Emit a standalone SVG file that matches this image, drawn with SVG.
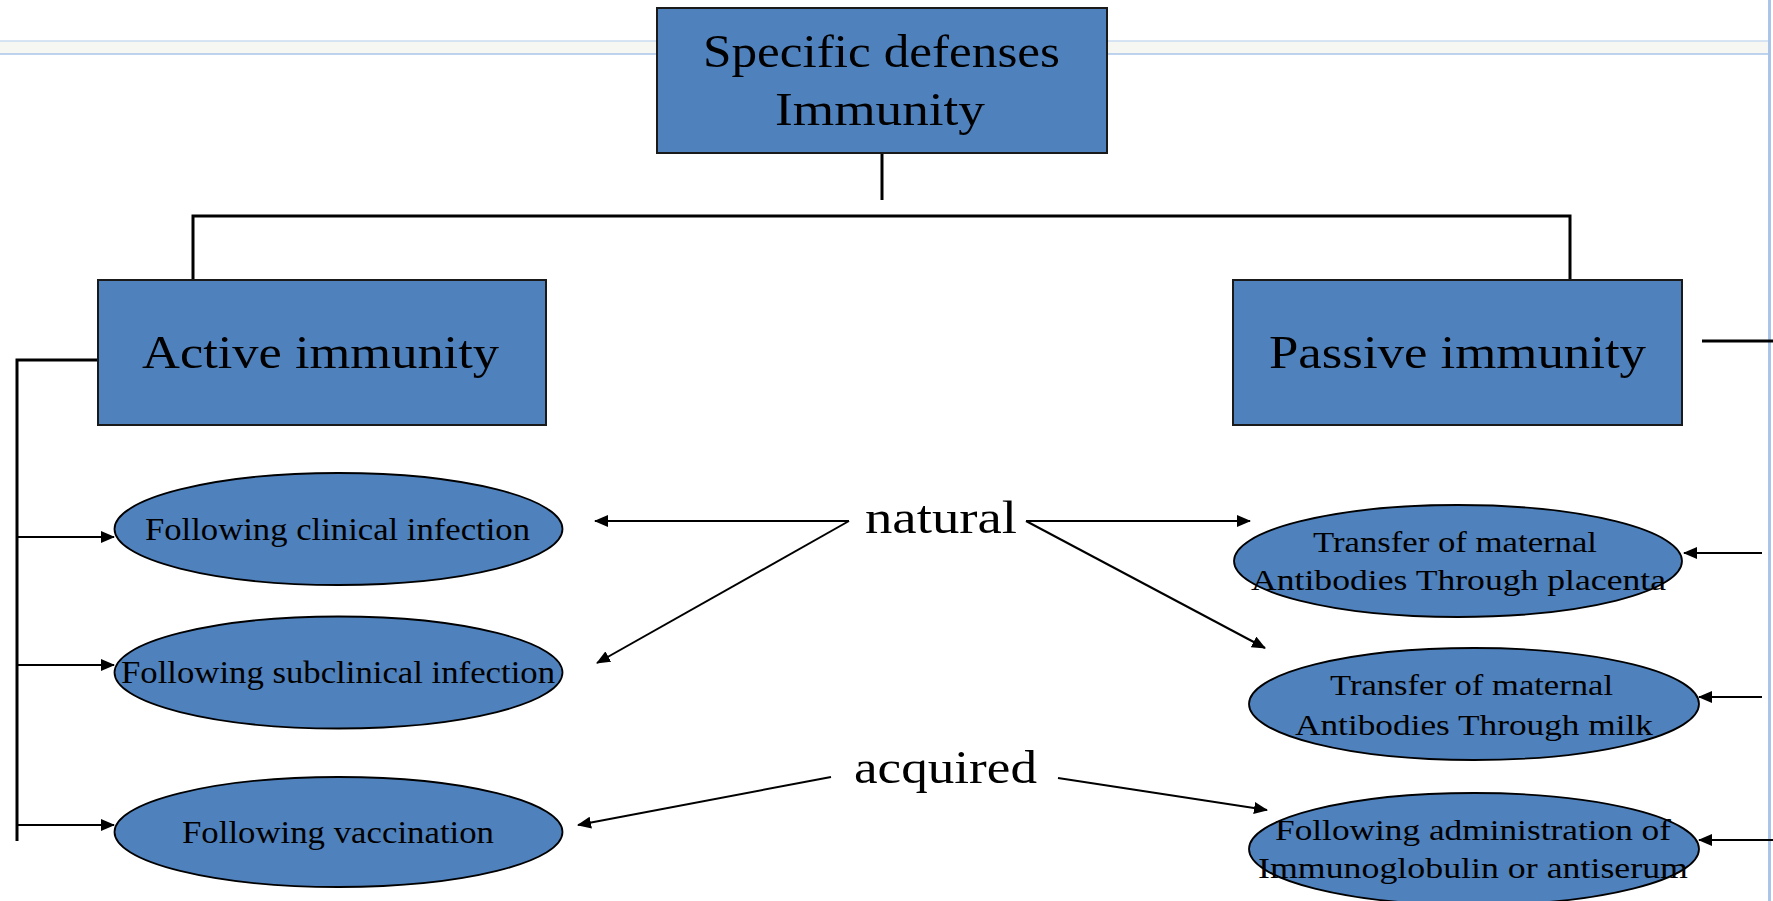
<svg xmlns="http://www.w3.org/2000/svg" width="1773" height="901" viewBox="0 0 1773 901">
<style>
.box{fill:#4f81bd;stroke:#1a1a1a;stroke-width:2}
.ell{fill:#4f81bd;stroke:#000;stroke-width:1.8}
.t{font-family:"Liberation Serif","Times New Roman",serif;fill:#000;text-anchor:middle}
.big{font-size:46px}
.sm{font-size:32px}
.xs{font-size:30px}
.tree{fill:none;stroke:#000;stroke-width:3}
.arr{fill:none;stroke:#000;stroke-width:2;marker-end:url(#ah)}
</style>
<defs>
<marker id="ah" markerUnits="userSpaceOnUse" markerWidth="14" markerHeight="12" refX="13" refY="6" orient="auto">
<path d="M0,0 L14,6 L0,12 z" fill="#000"/>
</marker>
</defs>
<rect x="0" y="0" width="1773" height="901" fill="#fff"/>
<g id="frame">
<rect x="0" y="41" width="1768" height="13" fill="#f6f6f2"/>
<line x1="0" y1="41" x2="1768" y2="41" stroke="#c9dbf0" stroke-width="1.5"/>
<line x1="0" y1="54" x2="1768" y2="54" stroke="#a9c6ea" stroke-width="1.5"/>
<line x1="1769.5" y1="0" x2="1769.5" y2="901" stroke="#a9c6ea" stroke-width="3"/>
</g>
<g id="connectors">
<polyline class="tree" points="882,153 882,200"/>
<polyline class="tree" points="193,280 193,216 1570,216 1570,280"/>
<polyline class="tree" points="98,360 17,360 17,841"/>
<line class="tree" x1="1702" y1="341" x2="1773" y2="341"/>
<line class="arr" x1="17" y1="537" x2="114" y2="537"/>
<line class="arr" x1="17" y1="665" x2="114" y2="665"/>
<line class="arr" x1="17" y1="825" x2="114" y2="825"/>
<line class="arr" x1="849" y1="521" x2="595" y2="521"/>
<line class="arr" x1="849" y1="521" x2="597" y2="663"/>
<line class="arr" x1="1026" y1="521" x2="1250" y2="521"/>
<line class="arr" x1="1026" y1="521" x2="1265" y2="648"/>
<line class="arr" x1="831" y1="777" x2="578" y2="825"/>
<line class="arr" x1="1058" y1="778" x2="1267" y2="810"/>
<line class="arr" x1="1762" y1="553" x2="1684" y2="553"/>
<line class="arr" x1="1762" y1="697" x2="1699" y2="697"/>
<line class="arr" x1="1773" y1="840" x2="1699" y2="840"/>
</g>
<g id="specific">
<rect class="box" x="657" y="8" width="450" height="145"/>
<text class="t big" x="881.5" y="67" textLength="357" lengthAdjust="spacingAndGlyphs">Specific defenses</text>
<text class="t big" x="880" y="125" textLength="210" lengthAdjust="spacingAndGlyphs">Immunity</text>
</g>
<g id="active">
<rect class="box" x="98" y="280" width="448" height="145"/>
<text class="t big" x="320.5" y="368" textLength="357" lengthAdjust="spacingAndGlyphs">Active immunity</text>
</g>
<g id="passive">
<rect class="box" x="1233" y="280" width="449" height="145"/>
<text class="t big" x="1457.5" y="368" textLength="377" lengthAdjust="spacingAndGlyphs">Passive immunity</text>
</g>
<g id="natural">
<text class="t big" x="941" y="533" textLength="152" lengthAdjust="spacingAndGlyphs">natural</text>
</g>
<g id="acquired">
<text class="t big" x="945.5" y="783" textLength="183" lengthAdjust="spacingAndGlyphs">acquired</text>
</g>
<g id="clinical">
<ellipse class="ell" cx="338.5" cy="529" rx="224" ry="56"/>
<text class="t sm" x="337.5" y="540" textLength="385" lengthAdjust="spacingAndGlyphs">Following clinical infection</text>
</g>
<g id="subclinical">
<ellipse class="ell" cx="338.5" cy="672.5" rx="224" ry="56"/>
<text class="t sm" x="338" y="683" textLength="434" lengthAdjust="spacingAndGlyphs">Following subclinical infection</text>
</g>
<g id="vaccination">
<ellipse class="ell" cx="338.5" cy="832" rx="224" ry="55"/>
<text class="t sm" x="338" y="843" textLength="312" lengthAdjust="spacingAndGlyphs">Following vaccination</text>
</g>
<g id="placenta">
<ellipse class="ell" cx="1458" cy="561" rx="224" ry="56"/>
<text class="t xs" x="1455" y="552" textLength="284" lengthAdjust="spacingAndGlyphs">Transfer of maternal</text>
<text class="t xs" x="1458.5" y="590" textLength="415" lengthAdjust="spacingAndGlyphs">Antibodies Through placenta</text>
</g>
<g id="milk">
<ellipse class="ell" cx="1474" cy="704" rx="225" ry="56"/>
<text class="t xs" x="1471.5" y="695" textLength="283" lengthAdjust="spacingAndGlyphs">Transfer of maternal</text>
<text class="t xs" x="1474" y="735" textLength="358" lengthAdjust="spacingAndGlyphs">Antibodies Through milk</text>
</g>
<g id="antiserum">
<ellipse class="ell" cx="1474" cy="849" rx="225" ry="56"/>
<text class="t xs" x="1473" y="840" textLength="396" lengthAdjust="spacingAndGlyphs">Following administration of</text>
<text class="t xs" x="1473" y="878" textLength="430" lengthAdjust="spacingAndGlyphs">Immunoglobulin or antiserum</text>
</g>
</svg>
